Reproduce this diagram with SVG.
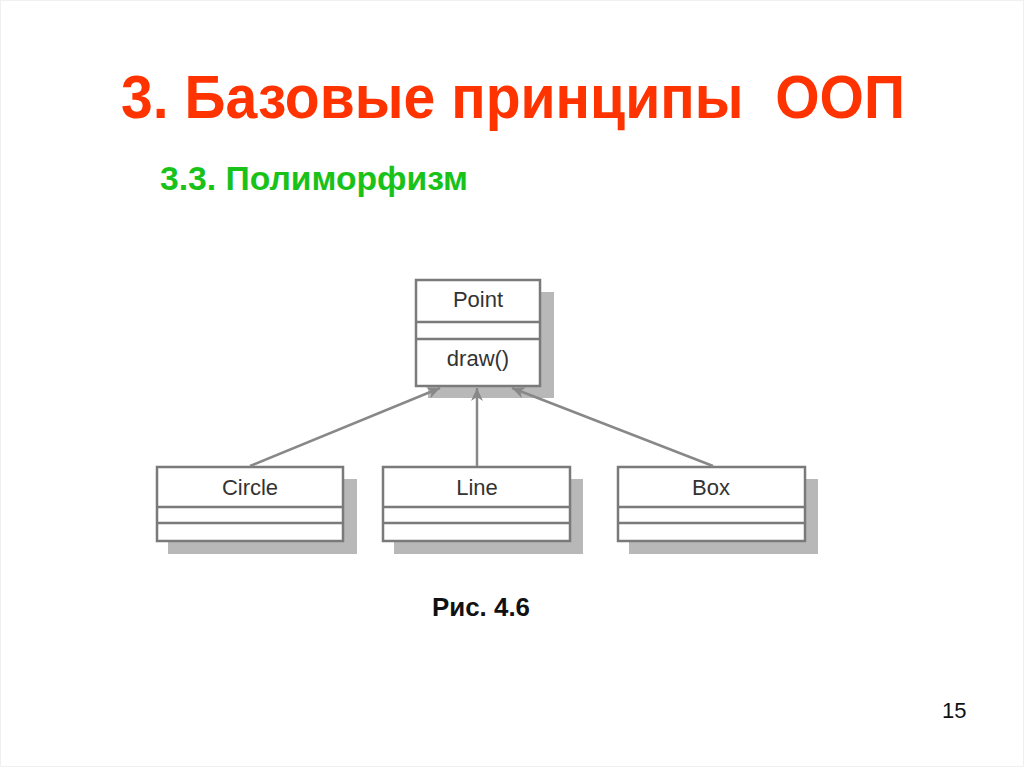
<svg xmlns="http://www.w3.org/2000/svg" width="1024" height="767" viewBox="0 0 1024 767">
<style>
.title{font-family:"Liberation Sans",Arial,sans-serif;font-weight:bold;font-size:61px;fill:#ff3300}
.sub{font-family:"Liberation Sans",Arial,sans-serif;font-weight:bold;font-size:34px;fill:#19c219}
.cap{font-family:"Liberation Sans",Arial,sans-serif;font-weight:bold;font-size:25px;fill:#111}
.num{font-family:"Liberation Sans",Arial,sans-serif;font-size:22px;fill:#111}
.lbl{font-family:"Liberation Sans",Arial,sans-serif;font-size:22px;fill:#333;text-anchor:middle}
.box{fill:#fff;stroke:#7a7a7a;stroke-width:2.5}
.shadow{fill:#b8b8b8}
.div{stroke:#7a7a7a;stroke-width:2.5}
.conn{stroke:#888;stroke-width:2.5;fill:none}
</style>
<defs>
<marker id="arr" viewBox="0 0 14 12" refX="13" refY="6" markerWidth="14" markerHeight="12" markerUnits="userSpaceOnUse" orient="auto">
<path d="M0,0 L13,6 L0,12 L4,6 Z" fill="#888"/>
</marker>
</defs>
<rect x="0.5" y="0.5" width="1023" height="766" fill="#fff" stroke="#f0f0f0"/>
<text class="title" x="121" y="118" textLength="784" lengthAdjust="spacingAndGlyphs" xml:space="preserve">3. Базовые принципы  ООП</text>
<text class="sub" x="160" y="190" textLength="308" lengthAdjust="spacingAndGlyphs">3.3. Полиморфизм</text>

<g id="point">
<rect class="shadow" x="428" y="292" width="126" height="106"/>
<rect class="box" x="416" y="280" width="124" height="106"/>
<line class="div" x1="416" y1="322" x2="540" y2="322"/>
<line class="div" x1="416" y1="339" x2="540" y2="339"/>
<text class="lbl" x="478" y="307">Point</text>
<text class="lbl" x="478" y="366">draw()</text>
</g>

<g id="circle">
<rect class="shadow" x="168" y="479" width="189" height="75"/>
<rect class="box" x="157" y="467" width="186" height="74"/>
<line class="div" x1="157" y1="507" x2="343" y2="507"/>
<line class="div" x1="157" y1="523" x2="343" y2="523"/>
<text class="lbl" x="250" y="495">Circle</text>
</g>

<g id="line">
<rect class="shadow" x="394" y="479" width="189" height="75"/>
<rect class="box" x="383" y="467" width="187" height="74"/>
<line class="div" x1="383" y1="507" x2="570" y2="507"/>
<line class="div" x1="383" y1="523" x2="570" y2="523"/>
<text class="lbl" x="477" y="495">Line</text>
</g>

<g id="box">
<rect class="shadow" x="629" y="479" width="189" height="75"/>
<rect class="box" x="618" y="467" width="187" height="74"/>
<line class="div" x1="618" y1="507" x2="805" y2="507"/>
<line class="div" x1="618" y1="523" x2="805" y2="523"/>
<text class="lbl" x="711" y="495">Box</text>
</g>

<g id="connectors">
<line class="conn" x1="250" y1="466" x2="440" y2="388" marker-end="url(#arr)"/>
<line class="conn" x1="477" y1="466" x2="477" y2="388" marker-end="url(#arr)"/>
<line class="conn" x1="713" y1="466" x2="512" y2="388" marker-end="url(#arr)"/>
</g>

<text class="cap" x="432" y="616" textLength="98" lengthAdjust="spacingAndGlyphs">Рис. 4.6</text>
<text class="num" x="942" y="718">15</text>
</svg>
